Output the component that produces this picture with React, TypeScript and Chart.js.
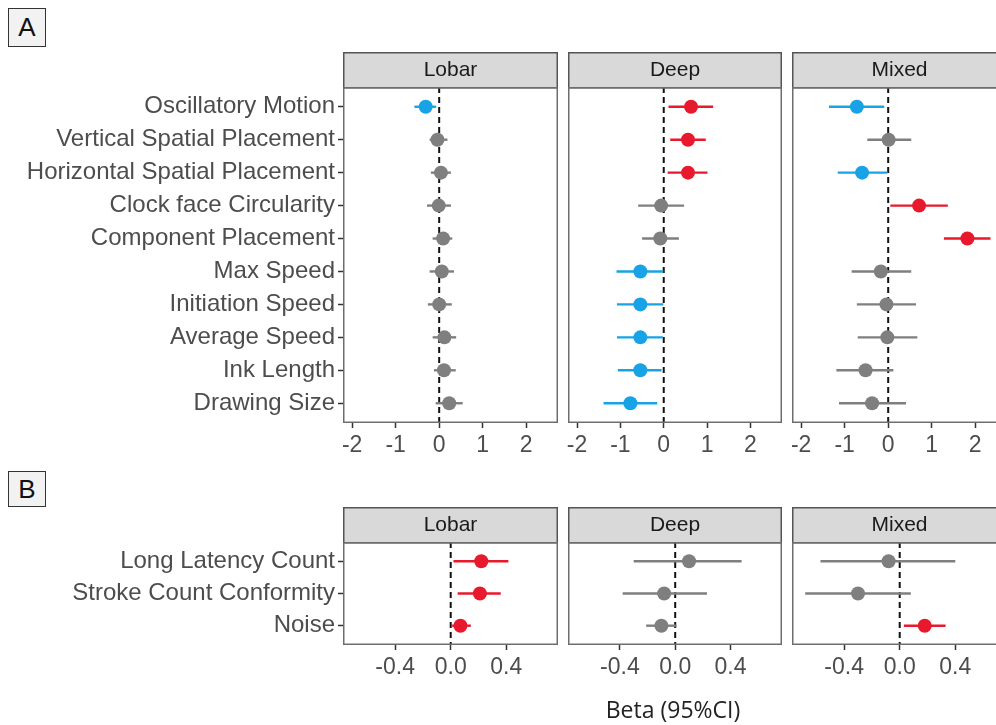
import React, { useEffect, useRef, useState } from "react";
import { Chart, registerables } from "chart.js";

Chart.register(...registerables);

// ---------- data ----------
const metricsA = [
  "Oscillatory Motion",
  "Vertical Spatial Placement",
  "Horizontal Spatial Placement",
  "Clock face Circularity",
  "Component Placement",
  "Max Speed",
  "Initiation Speed",
  "Average Speed",
  "Ink Length",
  "Drawing Size",
];
const metricsB = ["Long Latency Count", "Stroke Count Conformity", "Noise"];
const facets = ["Lobar", "Deep", "Mixed"];

const lobarA_beta = [-0.31, -0.04, 0.04, -0.01, 0.09, 0.06, 0.0, 0.12, 0.11, 0.23];
const lobarA_lo = [-0.57, -0.22, -0.19, -0.28, -0.15, -0.22, -0.26, -0.15, -0.12, -0.08];
const lobarA_hi = [-0.07, 0.19, 0.27, 0.27, 0.3, 0.34, 0.29, 0.39, 0.38, 0.54];

const deepA_beta = [0.63, 0.56, 0.56, -0.06, -0.08, -0.54, -0.54, -0.54, -0.54, -0.77];
const deepA_lo = [0.11, 0.15, 0.09, -0.59, -0.5, -1.09, -1.08, -1.08, -1.06, -1.39];
const deepA_hi = [1.14, 0.97, 1.01, 0.47, 0.35, -0.01, -0.01, -0.02, -0.05, -0.15];

const mixedA_beta = [-0.72, 0.01, -0.6, 0.71, 1.82, -0.17, -0.04, -0.02, -0.52, -0.37];
const mixedA_lo = [-1.36, -0.48, -1.16, 0.05, 1.28, -0.84, -0.72, -0.7, -1.19, -1.13];
const mixedA_hi = [-0.09, 0.53, -0.02, 1.37, 2.35, 0.53, 0.64, 0.67, 0.12, 0.41];

const lobarB_beta = [0.22, 0.21, 0.07];
const lobarB_lo = [0.02, 0.05, 0.01];
const lobarB_hi = [0.415, 0.36, 0.145];

const deepB_beta = [0.1, -0.08, -0.1];
const deepB_lo = [-0.3, -0.38, -0.21];
const deepB_hi = [0.48, 0.23, 0.01];

const mixedB_beta = [-0.08, -0.3, 0.18];
const mixedB_lo = [-0.57, -0.68, 0.03];
const mixedB_hi = [0.4, 0.08, 0.33];

const xTicksA = [-2, -1, 0, 1, 2];
const xTicksB = [-0.4, 0, 0.4];
const xRangeA = [-2.21, 2.73];
const xRangeB = [-0.775, 0.772];

// ---------- style ----------
const BLUE = "#17A3E6";
const RED = "#E8192C";
const GRAY = "#7F7F7F";
const FONT = "'Liberation Sans', Arial, sans-serif";

const colorFor = (lo: number, hi: number) => (hi < 0 ? BLUE : lo > 0 ? RED : GRAY);

const STRIP_H = 35;
const XAXIS_H = 40;
const SPACER = 24;

const panelPlugin = {
  id: "panelDeco",
  beforeDatasetsDraw(chart: any) {
    const { ctx, chartArea } = chart;
    const x0 = chart.scales.x.getPixelForValue(0);
    ctx.save();
    ctx.strokeStyle = "#111";
    ctx.lineWidth = 2;
    ctx.setLineDash([6, 4]);
    ctx.beginPath();
    ctx.moveTo(x0, chartArea.top);
    ctx.lineTo(x0, chartArea.bottom);
    ctx.stroke();
    ctx.restore();
  },
  afterDraw(chart: any) {
    const { ctx, chartArea } = chart;
    const title = (chart.options.plugins as any).panelDeco?.title ?? "";
    ctx.save();
    const w = chartArea.right - chartArea.left;
    ctx.fillStyle = "#D9D9D9";
    ctx.fillRect(chartArea.left, chartArea.top - STRIP_H, w, STRIP_H);
    ctx.strokeStyle = "#555";
    ctx.lineWidth = 1.5;
    ctx.strokeRect(chartArea.left + 0.75, chartArea.top - STRIP_H + 0.75, w - 1.5, STRIP_H);
    ctx.fillStyle = "#1A1A1A";
    ctx.font = `21px ${FONT}`;
    ctx.textAlign = "center";
    ctx.textBaseline = "middle";
    ctx.fillText(title, chartArea.left + w / 2, chartArea.top - STRIP_H / 2 + 1);
    ctx.strokeStyle = "#6E6E6E";
    ctx.lineWidth = 1.5;
    ctx.strokeRect(
      chartArea.left + 0.75,
      chartArea.top + 0.75,
      w - 1.5,
      chartArea.bottom - chartArea.top - 1.5
    );
    ctx.restore();
  },
};

type PanelProps = {
  title: string;
  labels: string[];
  beta: number[];
  lo: number[];
  hi: number[];
  xTicks: number[];
  xRange: number[];
  decimals: number;
  showY: boolean;
  left: number;
  top: number;
  width: number;
  areaH: number;
  yWidth: number;
};

function Panel(p: PanelProps) {
  const ref = useRef<HTMLCanvasElement>(null);
  const [err, setErr] = useState("");
  const height = STRIP_H + p.areaH + XAXIS_H;
  useEffect(() => {
    if (!ref.current) return;
    let chart: any = null;
    try {
      const n = p.labels.length;
      const colors = p.beta.map((_, i) => colorFor(p.lo[i], p.hi[i]));
      const pointsDs: any = {
        data: p.beta.map((b, i) => ({ x: b, y: i })),
        showLine: false,
        pointRadius: 7,
        pointHoverRadius: 7,
        pointBackgroundColor: colors,
        pointBorderWidth: 0,
        pointBorderColor: colors,
      };
      const ciDs: any[] = p.beta.map((_, i) => ({
        data: [
          { x: p.lo[i], y: i },
          { x: p.hi[i], y: i },
        ],
        showLine: true,
        borderColor: colors[i],
        borderWidth: 2.4,
        pointRadius: 0,
        pointHoverRadius: 0,
      }));
      chart = new Chart(ref.current, {
        type: "scatter",
        data: { datasets: [pointsDs, ...ciDs] },
        options: {
          animation: false,
          responsive: false,
          maintainAspectRatio: false,
          events: [],
          layout: { autoPadding: false, padding: { top: STRIP_H, left: 0, right: 0, bottom: 0 } },
          plugins: {
            legend: { display: false },
            tooltip: { enabled: false },
            panelDeco: { title: p.title },
          } as any,
          scales: {
            x: {
              type: "linear",
              min: p.xRange[0],
              max: p.xRange[1],
              afterBuildTicks: (s: any) => {
                s.ticks = p.xTicks.map((v) => ({ value: v }));
              },
              afterFit: (s: any) => {
                s.height = XAXIS_H;
                s.paddingLeft = 0;
                s.paddingRight = 0;
              },
              ticks: {
                autoSkip: false,
                maxRotation: 0,
                padding: 4,
                color: "#4D4D4D",
                font: { family: FONT, size: 23 },
                callback: (v: any) => Number(v).toFixed(p.decimals),
              },
              grid: {
                drawOnChartArea: false,
                drawTicks: true,
                tickLength: 5,
                tickColor: "#333",
                tickWidth: 1.5,
                color: "rgba(0,0,0,0)",
              },
              border: { display: false },
            },
            y: {
              type: "linear",
              reverse: true,
              min: -0.6,
              max: n - 0.4,
              display: true,
              afterBuildTicks: (s: any) => {
                s.ticks = p.labels.map((_, i) => ({ value: i }));
              },
              afterFit: (s: any) => {
                s.width = p.yWidth;
                s.paddingTop = 0;
                s.paddingBottom = 0;
              },
              ticks: {
                display: p.showY,
                autoSkip: false,
                padding: 3,
                color: "#4D4D4D",
                font: { family: FONT, size: 24 },
                callback: (v: any) => p.labels[Math.round(Number(v))] ?? "",
              },
              grid: {
                drawOnChartArea: false,
                drawTicks: p.showY,
                tickLength: 5,
                tickColor: "#333",
                tickWidth: 1.5,
                color: "rgba(0,0,0,0)",
              },
              border: { display: false },
            },
          },
        } as any,
        plugins: [panelPlugin],
      });
    } catch (e: any) {
      setErr(String(e && e.message ? e.message : e));
    }
    return () => {
      if (chart) chart.destroy();
    };
  }, []);
  return (
    <>
      <canvas
        ref={ref}
        width={p.width}
        height={height}
        style={{ position: "absolute", left: p.left, top: p.top, width: p.width, height }}
      />
      {err ? (
        <div style={{ position: "absolute", left: p.left, top: p.top + 60, color: "red", fontSize: 10, width: 200 }}>
          {err}
        </div>
      ) : null}
    </>
  );
}

const boxStyle = (top: number, h: number): React.CSSProperties => ({
  position: "absolute",
  left: 8,
  top,
  width: 38,
  height: h,
  border: "1.5px solid #333",
  background: "#F2F2F2",
  fontFamily: FONT,
  fontSize: 26,
  color: "#111",
  display: "flex",
  alignItems: "center",
  justifyContent: "center",
  boxSizing: "border-box",
});

const colsLeft = [343, 568, 792];
const colsW = [215, 214, 215];

export default function App() {
  const aData = [
    [lobarA_beta, lobarA_lo, lobarA_hi],
    [deepA_beta, deepA_lo, deepA_hi],
    [mixedA_beta, mixedA_lo, mixedA_hi],
  ];
  const bData = [
    [lobarB_beta, lobarB_lo, lobarB_hi],
    [deepB_beta, deepB_lo, deepB_hi],
    [mixedB_beta, mixedB_lo, mixedB_hi],
  ];
  const geom = (k: number) => ({
    left: k === 0 ? 0 : colsLeft[k] - SPACER,
    width: k === 0 ? colsLeft[0] + colsW[0] : colsW[k] + SPACER,
    yWidth: k === 0 ? colsLeft[0] : SPACER,
  });
  return (
    <div
      style={{
        position: "fixed",
        left: 0,
        top: 0,
        width: 996,
        height: 725,
        overflow: "hidden",
        background: "#fff",
      }}
    >
      <div style={boxStyle(8, 39)}>A</div>
      <div style={boxStyle(471, 36)}>B</div>
      {facets.map((f, k) => (
        <Panel
          key={"A" + f}
          title={f}
          labels={metricsA}
          beta={aData[k][0]}
          lo={aData[k][1]}
          hi={aData[k][2]}
          xTicks={xTicksA}
          xRange={xRangeA}
          decimals={0}
          showY={k === 0}
          top={52}
          areaH={336}
          {...geom(k)}
        />
      ))}
      {facets.map((f, k) => (
        <Panel
          key={"B" + f}
          title={f}
          labels={metricsB}
          beta={bData[k][0]}
          lo={bData[k][1]}
          hi={bData[k][2]}
          xTicks={xTicksB}
          xRange={xRangeB}
          decimals={1}
          showY={k === 0}
          top={507}
          areaH={103}
          {...geom(k)}
        />
      ))}
      <div
        style={{
          position: "absolute",
          left: 573,
          width: 200,
          top: 693,
          textAlign: "center",
          fontFamily: "'Open Sans', 'Noto Sans', sans-serif",
          fontSize: 23,
          color: "#222",
          lineHeight: "32px",
        }}
      >
        Beta (95%CI)
      </div>
    </div>
  );
}
